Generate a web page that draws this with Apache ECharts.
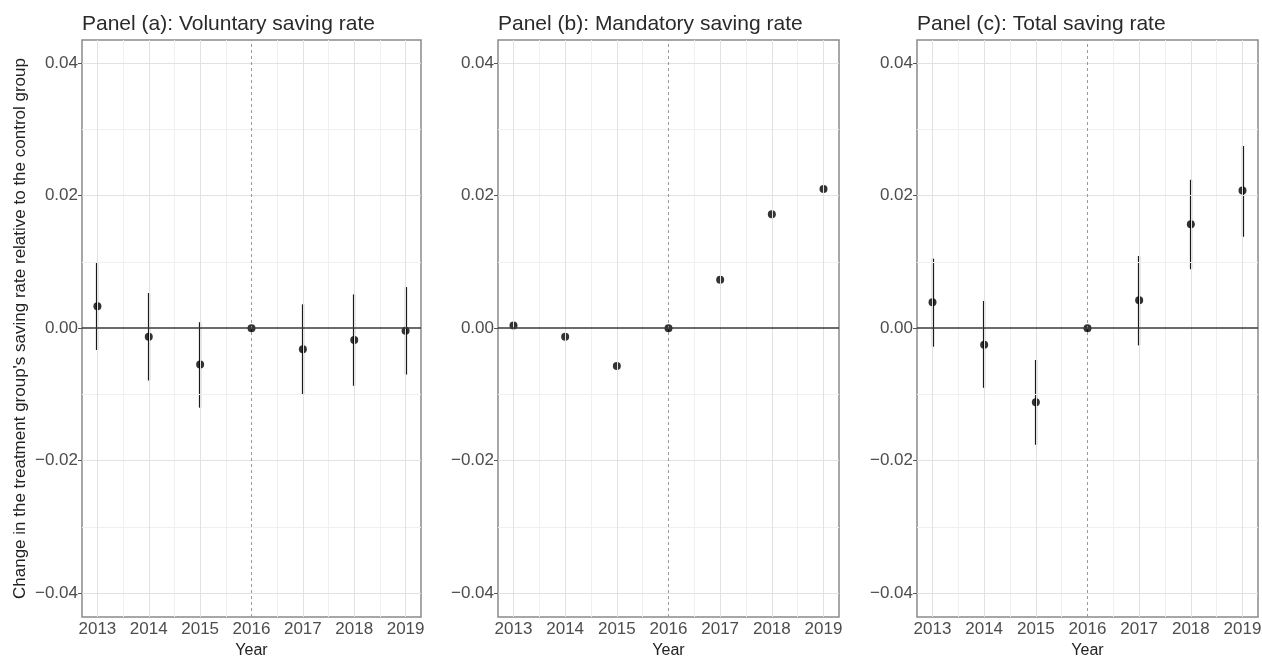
<!DOCTYPE html>
<html><head><meta charset="utf-8">
<script src="https://cdn.jsdelivr.net/npm/echarts@6/dist/echarts.min.js"></script>
<style>html,body{margin:0;padding:0;background:#fff}#c{width:1262px;height:656px}</style>
</head><body><div id="c"></div>
<script>
const years = [2013, 2014, 2015, 2016, 2017, 2018, 2019];
const minorYears = [2013.5, 2014.5, 2015.5, 2016.5, 2017.5, 2018.5];
const yTicks = [-0.04, -0.02, 0, 0.02, 0.04];
const yMinor = [-0.03, -0.01, 0.01, 0.03];
const panelTitles = ['Panel (a): Voluntary saving rate', 'Panel (b): Mandatory saving rate', 'Panel (c): Total saving rate'];
const yTitle = "Change in the treatment group's saving rate relative to the control group";
const xTitle = 'Year';
const eventYear = 2016;

// Panel (a) voluntary
const volEst  = [0.0033, -0.0013, -0.0055, 0, -0.0032, -0.0018, -0.0004];
const volLow  = [-0.0033, -0.0079, -0.0120, null, -0.0100, -0.0087, -0.0070];
const volHigh = [0.0100, 0.0053, 0.0009, null, 0.0036, 0.0051, 0.0062];
// Panel (b) mandatory
const manEst  = [0.0004, -0.0013, -0.0057, 0, 0.0073, 0.0172, 0.0210];
const manLow  = [null, null, null, null, null, null, null];
const manHigh = [null, null, null, null, null, null, null];
// Panel (c) total
const totEst  = [0.0039, -0.0025, -0.0112, 0, 0.0042, 0.0157, 0.0208];
const totLow  = [-0.0028, -0.0090, -0.0176, null, -0.0026, 0.0089, 0.0138];
const totHigh = [0.0105, 0.0041, -0.0048, null, 0.0109, 0.0224, 0.0275];

const panels = [
  { est: volEst, low: volLow, high: volHigh },
  { est: manEst, low: manLow, high: manHigh },
  { est: totEst, low: totLow, high: totHigh }
];

const FONT = 'Liberation Sans, Arial, sans-serif';
const gridLefts = [82, 498, 917];
const gridWidths = [339, 341, 341];

const grids = [], xAxes = [], yAxes = [], series = [], titles = [];
panels.forEach((p, i) => {
  grids.push({ left: gridLefts[i], width: gridWidths[i], top: 40, height: 577,
    outerBoundsMode: 'none', containLabel: false,
    show: true, borderColor: '#8a8a8a', borderWidth: 1.5, backgroundColor: '#fff' });
  titles.push({ text: panelTitles[i], left: gridLefts[i] - 5, top: 9,
    textStyle: { fontFamily: FONT, fontSize: 21, fontWeight: 'normal', color: '#2a2a2a' } });
  xAxes.push({ type: 'value', gridIndex: i, min: 2012.7, max: 2019.3,
    name: xTitle, nameLocation: 'middle', nameGap: 23,
    nameTextStyle: { fontFamily: FONT, fontSize: 16, color: '#222' },
    axisLine: { show: false },
    axisTick: { show: true, customValues: years, length: 4, lineStyle: { color: '#555' } },
    axisLabel: { customValues: years, margin: 4, fontFamily: FONT, fontSize: 17, color: '#4d4d4d',
      formatter: v => String(Math.round(v)) },
    splitLine: { show: false } });
  yAxes.push({ type: 'value', gridIndex: i, min: -0.0436, max: 0.0435,
    name: i === 0 ? yTitle : '', nameLocation: 'middle', nameGap: 53,
    nameTextStyle: { fontFamily: FONT, fontSize: 17, color: '#222' },
    axisLine: { show: false },
    axisTick: { show: true, customValues: yTicks, length: 4, lineStyle: { color: '#555' } },
    axisLabel: { customValues: yTicks, margin: 4, fontFamily: FONT, fontSize: 17, color: '#4d4d4d',
      formatter: v => (v < -1e-9 ? '\u2212' : '') + Math.abs(v).toFixed(2) },
    splitLine: { show: false } });

  const gridLines = [];
  minorYears.forEach(v => gridLines.push({ xAxis: v, lineStyle: { color: '#f0f0f0', width: 1, type: 'solid' } }));
  yMinor.forEach(v => gridLines.push({ yAxis: v, lineStyle: { color: '#f0f0f0', width: 1, type: 'solid' } }));
  years.filter(y => y !== eventYear).forEach(v => gridLines.push({ xAxis: v, lineStyle: { color: '#e2e2e2', width: 1, type: 'solid' } }));
  yTicks.filter(y => y !== 0).forEach(v => gridLines.push({ yAxis: v, lineStyle: { color: '#e2e2e2', width: 1, type: 'solid' } }));
  gridLines.push({ xAxis: eventYear, lineStyle: { color: '#9a9a9a', width: 1, type: [3, 3] } });
  gridLines.push({ yAxis: 0, lineStyle: { color: '#3a3a3a', width: 1.5, type: 'solid' } });

  series.push({ type: 'scatter', xAxisIndex: i, yAxisIndex: i, data: [], z: 1, silent: true,
    markLine: { silent: true, symbol: 'none', label: { show: false }, animation: false, data: gridLines } });

  const ebData = years.map((y, k) => [y, p.low[k], p.high[k]]).filter(d => d[1] !== null);
  series.push({ type: 'custom', xAxisIndex: i, yAxisIndex: i, z: 3, data: ebData,
    encode: { x: 0, y: [1, 2] },
    renderItem: (params, api) => {
      const a = api.coord([api.value(0), api.value(1)]);
      const b = api.coord([api.value(0), api.value(2)]);
      const x = Math.round(a[0]);
      return { type: 'line', shape: { x1: x, y1: a[1], x2: x, y2: b[1] },
        style: { stroke: '#1a1a1a', lineWidth: 2.2 } };
    } });
  series.push({ type: 'scatter', xAxisIndex: i, yAxisIndex: i, z: 4, symbol: 'circle', symbolSize: 8,
    itemStyle: { color: '#000' }, data: years.map((y, k) => [y, p.est[k]]) });
});

const chart = echarts.init(document.getElementById('c'), null, { renderer: 'canvas' });
chart.setOption({ animation: false, backgroundColor: '#fff', title: titles, grid: grids,
  xAxis: xAxes, yAxis: yAxes, series: series });
</script></body></html>
